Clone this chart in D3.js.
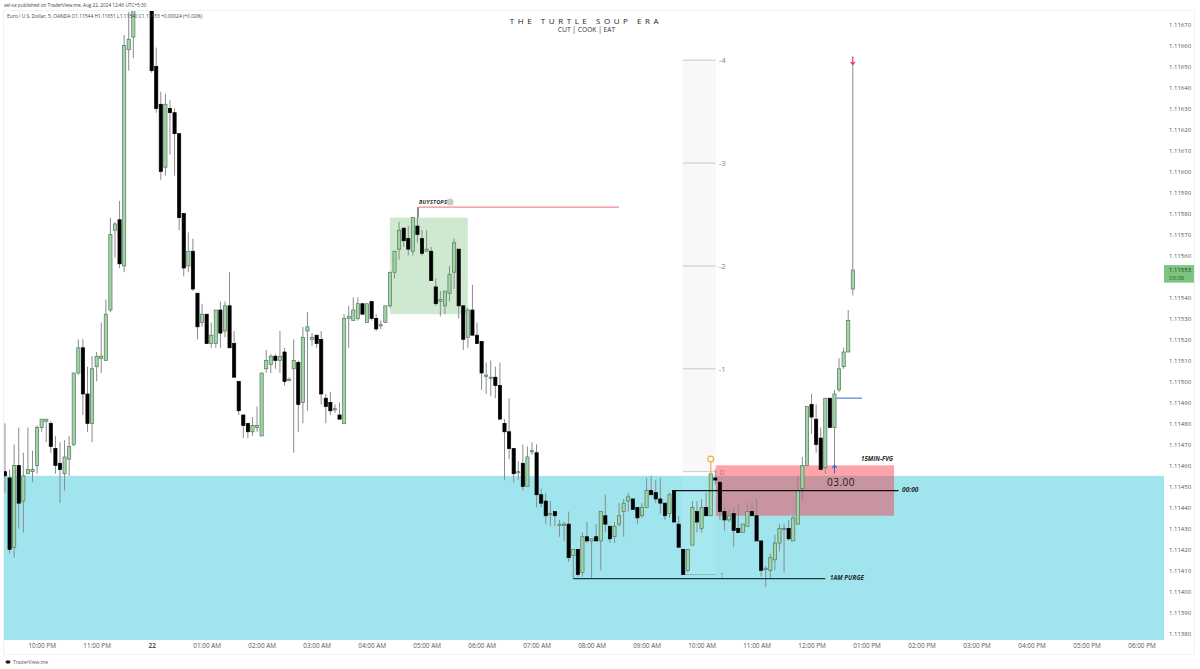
<!DOCTYPE html>
<html>
<head>
<meta charset="utf-8">
<script src="https://cdn.jsdelivr.net/npm/d3@7"></script>
<style>
  html, body { margin: 0; padding: 0; background: #fff; }
  svg { display: block; }
  text { font-family: "Open Sans", sans-serif; }
</style>
</head>
<body>
<div id="chart"></div>
<script>
// 5 minute EURUSD bars
var opens = [
1.11457,1.11454,1.11421,1.11460,1.11443,1.11456,1.11457,1.11460,1.11478,1.11481,
1.11480,1.11468,1.11461,1.11456,1.11463,1.11470,1.11504,1.11516,1.11494,1.11480,
1.11507,1.11511,1.11510,1.11534,1.11572,1.11577,1.11555,1.11658,1.11664,1.11684,
1.11695,1.11690,1.11688,1.11650,1.11632,1.11602,1.11630,1.11628,1.11618,1.11580,
1.11555,1.11562,1.11542,1.11528,1.11532,1.11518,1.11518,1.11534,1.11524,1.11536,
1.11518,1.11500,1.11484,1.11480,1.11476,1.11478,1.11474,1.11506,1.11508,1.11512,
1.11510,1.11514,1.11501,1.11506,1.11509,1.11490,1.11524,1.11520,1.11522,1.11520,
1.11492,1.11490,1.11487,1.11484,1.11480,1.11530,1.11529,1.11530,1.11537,1.11528,
1.11538,1.11530,1.11527,1.11528,1.11536,1.11552,1.11563,1.11573,1.11568,1.11562,
1.11574,1.11568,1.11562,1.11562,1.11545,1.11538,1.11536,1.11542,1.11552,1.11563,
1.11536,1.11521,1.11534,1.11522,1.11519,1.11503,1.11502,1.11502,1.11498,1.11480,
1.11476,1.11468,1.11457,1.11461,1.11450,1.11467,1.11466,1.11446,1.11443,1.11437,
1.11438,1.11432,1.11432,1.11432,1.11417,1.11420,1.11409,1.11426,1.11424,1.11426,
1.11424,1.11436,1.11431,1.11426,1.11432,1.11438,1.11443,1.11444,1.11440,1.11436,
1.11440,1.11448,1.11447,1.11444,1.11442,1.11437,1.11448,1.11432,1.11420,1.11410,
1.11422,1.11438,1.11430,1.11440,1.11436,1.11454,1.11452,1.11438,1.11434,1.11437,
1.11430,1.11428,1.11431,1.11438,1.11436,1.11424,1.11411,1.11410,1.11415,1.11423,
1.11430,1.11430,1.11424,1.11432,1.11449,1.11460,1.11489,1.11482,1.11473,1.11459,
1.11492,1.11478,1.11496,1.11507,1.11514,1.11544];
var highs = [
1.11480,1.11458,1.11470,1.11478,1.11466,1.11478,1.11467,1.11479,1.11482,1.11482,
1.11481,1.11474,1.11471,1.11472,1.11474,1.11504,1.11520,1.11520,1.11507,1.11512,
1.11514,1.11528,1.11539,1.11578,1.11576,1.11586,1.11665,1.11676,1.11690,1.11699,
1.11703,1.11698,1.11693,1.11659,1.11638,1.11637,1.11634,1.11630,1.11618,1.11580,
1.11571,1.11568,1.11542,1.11537,1.11532,1.11528,1.11534,1.11538,1.11538,1.11552,
1.11524,1.11500,1.11484,1.11480,1.11483,1.11488,1.11504,1.11515,1.11513,1.11513,
1.11524,1.11516,1.11502,1.11520,1.11510,1.11526,1.11533,1.11523,1.11522,1.11524,
1.11494,1.11495,1.11489,1.11490,1.11532,1.11536,1.11540,1.11540,1.11537,1.11537,
1.11538,1.11532,1.11529,1.11536,1.11552,1.11562,1.11576,1.11573,1.11574,1.11578,
1.11583,1.11572,1.11572,1.11564,1.11549,1.11543,1.11543,1.11555,1.11568,1.11563,
1.11536,1.11535,1.11546,1.11528,1.11519,1.11509,1.11510,1.11507,1.11509,1.11482,
1.11492,1.11468,1.11462,1.11470,1.11469,1.11471,1.11470,1.11449,1.11447,1.11443,
1.11438,1.11434,1.11433,1.11438,1.11420,1.11420,1.11428,1.11433,1.11425,1.11432,
1.11438,1.11446,1.11431,1.11433,1.11442,1.11444,1.11447,1.11444,1.11440,1.11442,
1.11454,1.11455,1.11453,1.11454,1.11442,1.11447,1.11448,1.11436,1.11420,1.11420,
1.11443,1.11443,1.11444,1.11447,1.11456,1.11458,1.11452,1.11440,1.11439,1.11440,
1.11441,1.11432,1.11442,1.11442,1.11444,1.11424,1.11412,1.11418,1.11427,1.11432,
1.11432,1.11434,1.11436,1.11455,1.11464,1.11488,1.11494,1.11489,1.11478,1.11492,
1.11492,1.11496,1.11511,1.11516,1.11534,1.11651];
var lows = [
1.11447,1.11418,1.11416,1.11430,1.11428,1.11456,1.11452,1.11456,1.11476,1.11471,
1.11466,1.11456,1.11442,1.11448,1.11455,1.11469,1.11503,1.11484,1.11476,1.11471,
1.11500,1.11504,1.11510,1.11533,1.11559,1.11554,1.11552,1.11648,1.11654,1.11680,
1.11686,1.11682,1.11647,1.11628,1.11596,1.11598,1.11608,1.11598,1.11572,1.11550,
1.11552,1.11543,1.11520,1.11526,1.11518,1.11516,1.11516,1.11516,1.11521,1.11516,
1.11502,1.11484,1.11473,1.11473,1.11474,1.11476,1.11474,1.11504,1.11504,1.11506,
1.11504,1.11498,1.11500,1.11466,1.11476,1.11480,1.11486,1.11517,1.11516,1.11489,
1.11480,1.11484,1.11485,1.11482,1.11480,1.11516,1.11529,1.11529,1.11532,1.11528,
1.11529,1.11524,1.11525,1.11528,1.11535,1.11549,1.11558,1.11564,1.11560,1.11560,
1.11566,1.11560,1.11562,1.11548,1.11536,1.11531,1.11532,1.11538,1.11544,1.11530,
1.11515,1.11516,1.11522,1.11518,1.11496,1.11494,1.11493,1.11492,1.11482,1.11453,
1.11463,1.11452,1.11453,1.11448,1.11450,1.11465,1.11440,1.11440,1.11432,1.11431,
1.11431,1.11426,1.11424,1.11414,1.11406,1.11407,1.11407,1.11423,1.11406,1.11424,
1.11410,1.11428,1.11423,1.11423,1.11431,1.11426,1.11438,1.11439,1.11432,1.11435,
1.11440,1.11446,1.11442,1.11437,1.11434,1.11435,1.11433,1.11421,1.11408,1.11409,
1.11422,1.11428,1.11428,1.11436,1.11436,1.11451,1.11434,1.11429,1.11433,1.11421,
1.11428,1.11428,1.11431,1.11436,1.11424,1.11407,1.11402,1.11406,1.11410,1.11419,
1.11409,1.11424,1.11424,1.11432,1.11443,1.11460,1.11475,1.11466,1.11458,1.11456,
1.11478,1.11460,1.11495,1.11506,1.11514,1.11541];
var closes = [
1.11455,1.11420,1.11460,1.11442,1.11455,1.11458,1.11458,1.11478,1.11482,1.11482,
1.11469,1.11460,1.11458,1.11464,1.11469,1.11504,1.11516,1.11494,1.11480,1.11506,
1.11512,1.11512,1.11532,1.11570,1.11575,1.11556,1.11660,1.11663,1.11684,1.11695,
1.11690,1.11688,1.11648,1.11630,1.11600,1.11632,1.11628,1.11618,1.11578,1.11554,
1.11562,1.11544,1.11526,1.11532,1.11518,1.11522,1.11534,1.11523,1.11536,1.11516,
1.11502,1.11486,1.11479,1.11476,1.11479,1.11479,1.11504,1.11510,1.11512,1.11510,
1.11512,1.11500,1.11501,1.11510,1.11489,1.11521,1.11526,1.11521,1.11518,1.11494,
1.11488,1.11486,1.11487,1.11482,1.11530,1.11531,1.11534,1.11537,1.11532,1.11537,
1.11530,1.11525,1.11527,1.11536,1.11552,1.11562,1.11572,1.11567,1.11563,1.11578,
1.11570,1.11561,1.11563,1.11548,1.11537,1.11539,1.11543,1.11551,1.11566,1.11536,
1.11520,1.11534,1.11522,1.11518,1.11504,1.11503,1.11502,1.11498,1.11482,1.11476,
1.11468,1.11456,1.11457,1.11450,1.11464,1.11467,1.11446,1.11442,1.11436,1.11437,
1.11436,1.11432,1.11432,1.11416,1.11420,1.11408,1.11426,1.11424,1.11425,1.11424,
1.11438,1.11432,1.11425,1.11431,1.11436,1.11442,1.11445,1.11439,1.11435,1.11440,
1.11448,1.11446,1.11444,1.11442,1.11436,1.11446,1.11433,1.11421,1.11408,1.11420,
1.11440,1.11433,1.11440,1.11436,1.11456,1.11453,1.11438,1.11434,1.11436,1.11429,
1.11428,1.11432,1.11438,1.11436,1.11424,1.11410,1.11411,1.11416,1.11423,1.11430,
1.11430,1.11425,1.11435,1.11448,1.11460,1.11488,1.11483,1.11470,1.11458,1.11492,
1.11478,1.11494,1.11506,1.11514,1.11529,1.11553];

var priceTicks = [1.11380,1.11390,1.11400,1.11410,1.11420,1.11430,1.11440,1.11450,1.11460,1.11470,
  1.11480,1.11490,1.11500,1.11510,1.11520,1.11530,1.11540,1.11550,1.11560,1.11570,1.11580,1.11590,
  1.11600,1.11610,1.11620,1.11630,1.11640,1.11650,1.11660,1.11670];
priceTicks = priceTicks.filter(function(d) { return d !== 1.11550; }); // hidden by the last price tag
var timeLabels = ["10:00 PM","11:00 PM","22","01:00 AM","02:00 AM","03:00 AM","04:00 AM","05:00 AM",
  "06:00 AM","07:00 AM","08:00 AM","09:00 AM","10:00 AM","11:00 AM","12:00 PM","01:00 PM","02:00 PM",
  "03:00 PM","04:00 PM","05:00 PM","06:00 PM"];

// drawings on the chart, prices and bar numbers
var fibLevels = [-4, -3, -2, -1, 0, 1];
var fibPrices = [1.11653, 1.11604, 1.11555, 1.11506, 1.11457, 1.11408];
var fibBars = [147.9, 155.1];
var zoneTop = 1.11455;
var boxBars = [84, 101], boxPrices = [1.11578, 1.11532];
var fvgBars = [155.1, 194], fvgPrices = [1.11460, 1.11436];
var buyStopBars = [90.2, 134], buyStopPrice = 1.11583;
var midnightBars = [146, 195], midnightPrice = 1.11448;
var purgeBars = [124, 179], purgePrice = 1.11406;
var blueBars = [181.3, 187], bluePrice = 1.11492;

var width = 1200, height = 669;
var plot = {left: 4, right: 1164, top: 11, bottom: 640};

var svg = d3.select("#chart").append("svg").attr("width", width).attr("height", height);

var start = new Date(2024, 7, 21, 21, 20);
function barTime(i) { return new Date(start.getTime() + i * 300000); }

var x = d3.scaleTime().domain([barTime(0), barTime(185)]).range([5, 852.8]);
var y = d3.scaleLinear().domain([1.11380, 1.11660]).range([633.3, 45.5]);
function xb(i) { return x(barTime(i)); }

// clip for everything in the pane
svg.append("clipPath").attr("id", "pane").append("rect")
  .attr("x", plot.left).attr("y", plot.top)
  .attr("width", plot.right - plot.left).attr("height", plot.bottom - plot.top);

// frame lines
svg.append("rect").attr("x", plot.left - 0.5).attr("y", 10.5)
  .attr("width", 1195 - plot.left).attr("height", 644)
  .attr("fill", "none").attr("stroke", "#f0f1f3");

var pane = svg.append("g").attr("clip-path", "url(#pane)");

// cyan zone
pane.append("rect").attr("x", plot.left).attr("y", y(zoneTop))
  .attr("width", plot.right - plot.left).attr("height", plot.bottom - y(zoneTop))
  .attr("fill", "#a0e5ee");

// green box
pane.append("rect").attr("x", xb(boxBars[0])).attr("y", y(boxPrices[0]))
  .attr("width", xb(boxBars[1]) - xb(boxBars[0])).attr("height", y(boxPrices[1]) - y(boxPrices[0]))
  .attr("fill", "#cfe9d0");

// fib tool
pane.append("rect").attr("x", xb(fibBars[0])).attr("y", y(fibPrices[0]))
  .attr("width", xb(fibBars[1]) - xb(fibBars[0])).attr("height", y(fibPrices[4]) - y(fibPrices[0]))
  .attr("fill", "#f8f8f9");
pane.append("rect").attr("x", xb(fibBars[0])).attr("y", y(fibPrices[4]))
  .attr("width", xb(fibBars[1]) - xb(fibBars[0])).attr("height", y(fibPrices[5]) - y(fibPrices[4]))
  .attr("fill", "#ffffff").attr("opacity", 0.08);
pane.selectAll(".fib").data(fibPrices).enter().append("line")
  .attr("class", "fib")
  .attr("x1", xb(fibBars[0])).attr("x2", xb(fibBars[1]))
  .attr("y1", function(d) { return y(d); }).attr("y2", function(d) { return y(d); })
  .attr("stroke", function(d, i) { return i == 5 ? "#8fb9bf" : "#c6c9d6"; });
pane.selectAll(".fibLabel").data(fibLevels).enter().append("text")
  .attr("class", "fibLabel")
  .attr("x", function(d) { return d < 0 ? xb(fibBars[1]) + 3 : xb(fibBars[1]) + 4 ; })
  .attr("y", function(d, i) { return y(fibPrices[i]) + 3; })
  .attr("font-size", 8).attr("fill", function(d) { return d < 0 ? "#888" : "#7fa3a8"; })
  .text(function(d) { return d; });

// fair value gap
pane.append("rect").attr("x", xb(fvgBars[0])).attr("y", y(fvgPrices[0]))
  .attr("width", xb(fvgBars[1]) - xb(fvgBars[0])).attr("height", y(fvgPrices[1]) - y(fvgPrices[0]))
  .attr("fill", "rgb(250,45,60)").attr("opacity", 0.44);

// candles
var bars = d3.range(opens.length);
pane.selectAll(".wick").data(bars).enter().append("line")
  .attr("class", "wick")
  .attr("x1", function(i) { return xb(i); }).attr("x2", function(i) { return xb(i); })
  .attr("y1", function(i) { return y(highs[i]); }).attr("y2", function(i) { return y(lows[i]); })
  .attr("stroke", "#8b8b8b").attr("stroke-width", 1);
pane.selectAll(".body").data(bars).enter().append("rect")
  .attr("class", "body")
  .attr("x", function(i) { return xb(i) - 1.6; })
  .attr("width", 3.2)
  .attr("y", function(i) { return y(Math.max(opens[i], closes[i])); })
  .attr("height", function(i) { return Math.max(1.2, Math.abs(y(opens[i]) - y(closes[i]))); })
  .attr("fill", function(i) { return closes[i] >= opens[i] ? "#a3d3a6" : "#000"; })
  .attr("stroke", function(i) { return closes[i] >= opens[i] ? "#4f7a5a" : "#000"; })
  .attr("stroke-width", 0.7);

// horizontal lines
function hline(bars, price, color, w) {
  pane.append("line").attr("x1", xb(bars[0])).attr("x2", xb(bars[1]))
    .attr("y1", y(price)).attr("y2", y(price))
    .attr("stroke", color).attr("stroke-width", w);
}
hline(buyStopBars, buyStopPrice, "#f08a92", 1.4);
hline(midnightBars, midnightPrice, "#111", 1.2);
hline(purgeBars, purgePrice, "#1c3a40", 1.2);
hline(blueBars, bluePrice, "#6f92e6", 1.4);
pane.append("line").attr("x1", xb(buyStopBars[0])).attr("x2", xb(buyStopBars[0]))
  .attr("y1", y(buyStopPrice)).attr("y2", y(1.11578)).attr("stroke", "#777");

// arrows and idea bulb
function arrow(px, py, dir, color) {
  var g = pane.append("g").attr("transform", "translate(" + px + "," + py + ")").attr("stroke", color)
    .attr("fill", "none").attr("stroke-width", 1.1);
  g.append("line").attr("x1", 0).attr("x2", 0).attr("y1", 0).attr("y2", 8 * dir);
  g.append("path").attr("d", d3.line()([[-2.2, 2.5 * dir], [0, 0], [2.2, 2.5 * dir]]));
}
arrow(xb(181), y(1.11460), 1, "#2f62e0");
arrow(xb(185), y(1.11651), -1, "#e2264a");
pane.append("circle").attr("cx", xb(154)).attr("cy", y(1.11463)).attr("r", 2.9)
  .attr("fill", "none").attr("stroke", "#f0b040").attr("stroke-width", 1.2);
pane.append("line").attr("x1", xb(154)).attr("x2", xb(154))
  .attr("y1", y(1.11463) + 2.9).attr("y2", y(1.11456))
  .attr("stroke", "#f0b040").attr("stroke-width", 1.2);

// text on the chart
function label(t, px, py, size, opts) {
  opts = opts || {};
  return svg.append("text").attr("x", px).attr("y", py).attr("font-size", size)
    .attr("fill", opts.fill || "#222")
    .attr("font-weight", opts.weight || "normal")
    .attr("font-style", opts.style || "normal")
    .attr("letter-spacing", opts.spacing || 0)
    .attr("text-anchor", opts.anchor || "start")
    .attr("dominant-baseline", "middle")
    .text(t);
}
var tagStyle = {weight: 700, style: "italic", fill: "#2b2b2b"};
svg.append("circle").attr("cx", 450).attr("cy", 202).attr("r", 3.6).attr("fill", "#c9c9c9");
label("BUYSTOPS", 419, 202.5, 5.5, {weight: 700, style: "italic", fill: "#333", spacing: 0.2});
label("1AM PURGE", 830, 578.5, 6.2, tagStyle);
label("15MIN-FVG", 861, 459.5, 6.2, tagStyle);
label("00:00", 902, 490.5, 6.6, tagStyle);
label("03.00", 827, 483.5, 10, {fill: "#1a1a1a", spacing: 0.5, weight: 500});

label("THE TURTLE SOUP ERA", 586, 21.5, 8, {anchor: "middle", spacing: 3.55, fill: "#222"});
label("CUT | COOK | EAT", 586.5, 30.5, 6.7, {anchor: "middle", fill: "#333"});

label("sel-xa published on TraderView.me, Aug 22, 2024 12:46 UTC+5:30", 4, 6, 4.7, {fill: "#444"});
label("Euro / U.S. Dollar, 5, OANDA  O1.11544  H1.11651  L1.11540  C1.11553  +0.00024 (+0.02%)", 7, 17, 4.85, {fill: "#444"});
label("TraderView.me", 13, 662.5, 5, {fill: "#555"});
svg.append("ellipse").attr("cx", 8).attr("cy", 662).attr("rx", 2.6).attr("ry", 1.8).attr("fill", "#222");

// axes
var yAxis = d3.axisRight(y).tickValues(priceTicks).tickSize(0).tickPadding(5)
  .tickFormat(d3.format(".5f"));
var yG = svg.append("g").attr("transform", "translate(" + plot.right + ",0)").call(yAxis);
yG.select(".domain").remove();
yG.selectAll("text").attr("font-size", 6).attr("fill", "#555").style("font-family", "'Open Sans', sans-serif");

var hourTicks = timeLabels.map(function(d, i) { return d3.timeHour.offset(new Date(2024, 7, 21, 22), i); });
var xAxis = d3.axisBottom(x).tickValues(hourTicks).tickSize(0).tickPadding(3)
  .tickFormat(function(d, i) { return timeLabels[i]; });
var xG = svg.append("g").attr("transform", "translate(0," + plot.bottom + ")").call(xAxis);
xG.select(".domain").remove();
xG.selectAll("text").attr("font-size", 6.4).attr("fill", "#555")
  .style("font-family", "'Open Sans', sans-serif")
  .attr("font-weight", function(d, i) { return timeLabels[i] == "22" ? 700 : 400; });

// last price tag
svg.append("rect").attr("x", plot.right).attr("y", y(closes[185]) - 5)
  .attr("width", 30).attr("height", 17.5).attr("fill", "#7cc47f");
label(d3.format(".5f")(closes[185]), plot.right + 5, y(closes[185]) + 0.5, 6, {fill: "#1d3a20"});
label("03:38", plot.right + 5, y(closes[185]) + 8, 6, {fill: "#2d5a30"});
</script>
</body>
</html>
